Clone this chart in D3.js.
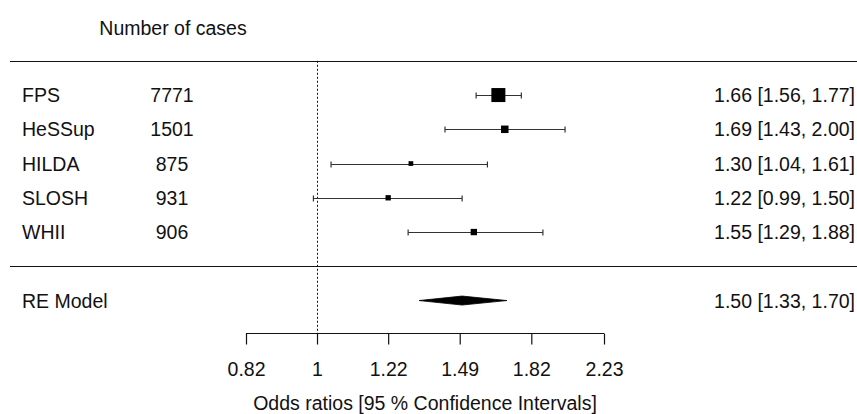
<!DOCTYPE html>
<html>
<head>
<meta charset="utf-8">
<script src="https://cdn.jsdelivr.net/npm/d3@7"></script>
<style>
  html, body { margin: 0; padding: 0; background: #fff; }
  svg { display: block; }
  text { font-family: "Liberation Sans", Arial, sans-serif; fill: #111; }
</style>
</head>
<body>
<svg id="chart" width="857" height="414"></svg>
<script>
// ---- data ----
const studies   = ["FPS", "HeSSup", "HILDA", "SLOSH", "WHII"];
const cases     = [7771, 1501, 875, 931, 906];
const estimates = [1.66, 1.69, 1.30, 1.22, 1.55];
const lowers    = [1.56, 1.43, 1.04, 0.99, 1.29];
const uppers    = [1.77, 2.00, 1.61, 1.50, 1.88];
const weights   = [29.4, 19.9, 15.8, 16.7, 18.2];   // RE-model weights (%)
const summaryLabel = "RE Model";
const summaryEst   = 1.50;
const summaryLower = 1.33;
const summaryUpper = 1.70;
const tickValues   = [0.82, 1, 1.22, 1.49, 1.82, 2.23];
const tickLabels   = ["0.82", "1", "1.22", "1.49", "1.82", "2.23"];
const headerText   = "Number of cases";
const axisTitle    = "Odds ratios [95 % Confidence Intervals]";

// ---- layout ----
const svg = d3.select("#chart");
const W = 857, H = 414;
const FS = 19.5;
const x = d3.scaleLog().domain([0.82, 2.23]).range([246, 604]);
const y = d3.scaleLinear().domain([0, 6]).range([266.3, 60.8]);  // row units
const size = d3.scaleLinear().domain([d3.min(weights), d3.max(weights)]).range([4.7, 14]);
const k = studies.length;
const rows = studies.map((s, i) => ({
  name: s, n: cases[i], est: estimates[i], lo: lowers[i], hi: uppers[i], w: weights[i], row: k - i
}));
const fmt = d3.format(".2f");
const ink = "#111";
const baseOff = 7;   // center -> baseline

// horizontal rules
svg.append("line").attr("x1", 10).attr("x2", W).attr("y1", Math.round(y(6)) + 0.5).attr("y2", Math.round(y(6)) + 0.5)
  .attr("stroke", ink).attr("stroke-width", 1.2);
svg.append("line").attr("x1", 10).attr("x2", W).attr("y1", Math.round(y(0)) + 0.5).attr("y2", Math.round(y(0)) + 0.5)
  .attr("stroke", ink).attr("stroke-width", 1.2);

// reference line at OR = 1
svg.append("line").attr("x1", Math.round(x(1)) + 0.5).attr("x2", Math.round(x(1)) + 0.5)
  .attr("y1", y(6)).attr("y2", y(-1.95))
  .attr("stroke", ink).attr("stroke-width", 1).attr("stroke-dasharray", "2,2");

// header
svg.append("text").attr("x", 173).attr("y", y(6.96) + baseOff).attr("text-anchor", "middle")
  .attr("font-size", FS).text(headerText);

// study rows
const g = svg.append("g");
rows.forEach(d => {
  const cy = y(d.row);
  const yy = Math.round(cy) + 0.5;
  g.append("text").attr("x", 22).attr("y", cy + baseOff).attr("font-size", FS).text(d.name);
  g.append("text").attr("x", 172).attr("y", cy + baseOff).attr("text-anchor", "middle").attr("font-size", FS).text(d.n);
  g.append("text").attr("x", 855).attr("y", cy + baseOff).attr("text-anchor", "end").attr("font-size", FS)
    .text(`${fmt(d.est)} [${fmt(d.lo)}, ${fmt(d.hi)}]`);
  // CI line
  g.append("line").attr("x1", x(d.lo)).attr("x2", x(d.hi)).attr("y1", yy).attr("y2", yy)
    .attr("stroke", "#333").attr("stroke-width", 1.2);
  [d.lo, d.hi].forEach(v => {
    g.append("line").attr("x1", x(v)).attr("x2", x(v)).attr("y1", yy - 3).attr("y2", yy + 3)
      .attr("stroke", "#333").attr("stroke-width", 1.2);
  });
  const s = size(d.w);
  g.append("rect").attr("x", x(d.est) - s / 2).attr("y", cy - s / 2).attr("width", s).attr("height", s)
    .attr("fill", "#000");
});

// summary row
const sy = y(-1);
svg.append("text").attr("x", 22).attr("y", sy + baseOff).attr("font-size", FS).text(summaryLabel);
svg.append("text").attr("x", 855).attr("y", sy + baseOff).attr("text-anchor", "end").attr("font-size", FS)
  .text(`${fmt(summaryEst)} [${fmt(summaryLower)}, ${fmt(summaryUpper)}]`);
const dh = 4.5;
svg.append("path")
  .attr("d", `M${x(summaryLower)},${sy} L${x(summaryEst)},${sy - dh} L${x(summaryUpper)},${sy} L${x(summaryEst)},${sy + dh} Z`)
  .attr("fill", "#000").attr("stroke", "#000").attr("stroke-width", 0.8);

// axis
const axisY = Math.round(y(-1.95)) + 0.5;
const axis = d3.axisBottom(x).tickValues(tickValues).tickFormat((v, i) => tickLabels[i]).tickSize(11).tickSizeOuter(0);
const ag = svg.append("g").attr("transform", `translate(0,${axisY})`).call(axis);
ag.select(".domain").attr("stroke", ink).attr("stroke-width", 1.2).attr("d", `M${x(0.82)},0H${x(2.23)}`);
ag.selectAll(".tick line").attr("stroke", ink).attr("stroke-width", 1.2);
ag.selectAll(".tick text").attr("font-size", FS).attr("font-family", "Liberation Sans, Arial, sans-serif")
  .attr("fill", ink).attr("dy", null).attr("y", y(-3) + baseOff - axisY);

// axis title
svg.append("text").attr("x", (x(0.82) + x(2.23)) / 2).attr("y", y(-4) + baseOff).attr("text-anchor", "middle")
  .attr("font-size", FS).text(axisTitle);
</script>
</body>
</html>
